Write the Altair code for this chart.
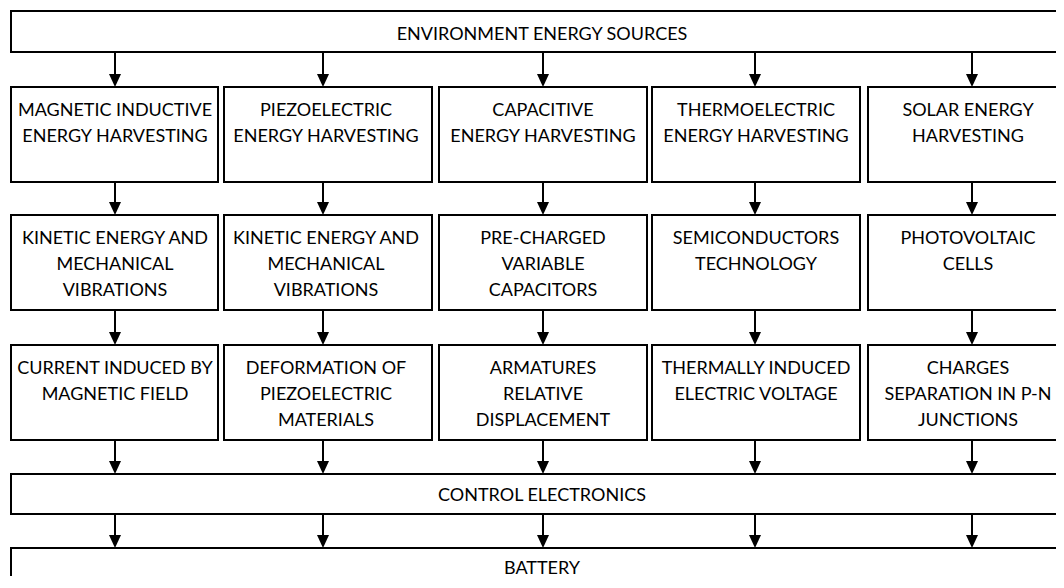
import altair as alt
import pandas as pd

# ---------------- data ----------------
top_label = "ENVIRONMENT ENERGY SOURCES"
control_label = "CONTROL ELECTRONICS"
battery_label = "BATTERY"

harvest_labels = [
    "MAGNETIC INDUCTIVE\nENERGY HARVESTING",
    "PIEZOELECTRIC\nENERGY HARVESTING",
    "CAPACITIVE\nENERGY HARVESTING",
    "THERMOELECTRIC\nENERGY HARVESTING",
    "SOLAR ENERGY\nHARVESTING",
]
source_labels = [
    "KINETIC ENERGY AND\nMECHANICAL\nVIBRATIONS",
    "KINETIC ENERGY AND\nMECHANICAL\nVIBRATIONS",
    "PRE-CHARGED\nVARIABLE\nCAPACITORS",
    "SEMICONDUCTORS\nTECHNOLOGY",
    "PHOTOVOLTAIC\nCELLS",
]
mechanism_labels = [
    "CURRENT INDUCED BY\nMAGNETIC FIELD",
    "DEFORMATION OF\nPIEZOELECTRIC\nMATERIALS",
    "ARMATURES\nRELATIVE\nDISPLACEMENT",
    "THERMALLY INDUCED\nELECTRIC VOLTAGE",
    "CHARGES\nSEPARATION IN P-N\nJUNCTIONS",
]

col_left = [11, 224, 439, 652, 868]
col_right = [218, 432, 647, 860, 1063]
col_text_x = [115, 326, 543, 756, 968]
arrow_x = [115, 323, 543, 755, 972]

band_top = [11, 87, 215, 345, 474, 548]
band_bottom = [52, 182, 310, 440, 514, 620]
wide_left, wide_right, wide_text_x = 11, 1090, 542
wide_baselines = [40, 501, 574]

# ---------------- build tables ----------------
boxes = []
texts = []
for band, label, base in zip([0, 4, 5], [top_label, control_label, battery_label], wide_baselines):
    boxes.append(dict(x=wide_left, x2=wide_right, y=band_top[band], y2=band_bottom[band]))
    texts.append(dict(x=wide_text_x, y=base, label=label))
for band, labels in zip([1, 2, 3], [harvest_labels, source_labels, mechanism_labels]):
    for i in range(5):
        boxes.append(dict(x=col_left[i], x2=col_right[i], y=band_top[band], y2=band_bottom[band]))
        texts.append(dict(x=col_text_x[i], y=band_top[band] + 29, label=labels[i]))

arrows = []
for b in range(5):
    for ax in arrow_x:
        arrows.append(dict(x=ax, y=band_bottom[b], y2=band_top[b + 1] - 10, tip=band_top[b + 1] - 6.5))

boxes_df = pd.DataFrame(boxes)
texts_df = pd.DataFrame(texts)
arrows_df = pd.DataFrame(arrows)

W, H = 1048, 568
xs = alt.Scale(domain=[8, 8 + W], nice=False, zero=False)
ys = alt.Scale(domain=[8, 8 + H], nice=False, zero=False, reverse=True)

rects = alt.Chart(boxes_df).mark_rect(
    fill="white", stroke="black", strokeWidth=2, clip=True
).encode(
    x=alt.X("x:Q", scale=xs, axis=None),
    x2="x2:Q",
    y=alt.Y("y:Q", scale=ys, axis=None),
    y2="y2:Q",
)

rules = alt.Chart(arrows_df).mark_rule(color="black", strokeWidth=2).encode(
    x=alt.X("x:Q", scale=xs, axis=None),
    y=alt.Y("y:Q", scale=ys, axis=None),
    y2="y2:Q",
)

heads = alt.Chart(arrows_df).mark_point(
    shape="M-1,-1.08L1,-1.08L0,1.08Z", filled=True, color="black", opacity=1, size=144
).encode(
    x=alt.X("x:Q", scale=xs, axis=None),
    y=alt.Y("tip:Q", scale=ys, axis=None),
)

labels = alt.Chart(texts_df).mark_text(
    font="Lato", fontSize=18, color="black", align="center", baseline="alphabetic",
    lineBreak="\n", lineHeight=26,
).encode(
    x=alt.X("x:Q", scale=xs, axis=None),
    y=alt.Y("y:Q", scale=ys, axis=None),
    text="label:N",
)

chart = alt.layer(rects, rules, heads, labels).properties(
    width=W, height=H, padding=0
).configure_view(stroke=None)

chart.save("out.html", embed_options={"renderer": "svg", "actions": False})
